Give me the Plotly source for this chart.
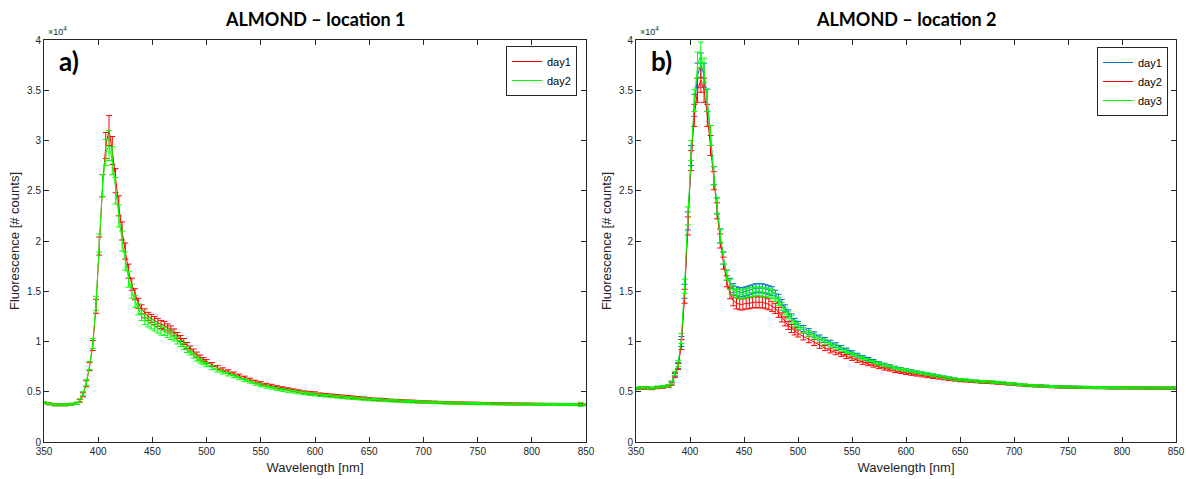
import plotly.graph_objects as go

# ---------------- data (counts) ----------------
WAVELENGTH = [350, 355, 360, 365, 370, 375, 380,
              383, 386, 389, 392, 395, 398, 401, 404, 407, 410,
              413, 416, 419, 422, 425, 428, 431, 434, 437, 440,
              443, 446, 449, 452, 455, 458, 461, 464, 467, 470,
              473, 476, 479, 482, 485, 488, 491, 494, 497, 500,
              505, 510, 515, 520, 525, 530, 535, 540, 545, 550,
              555, 560, 565, 570, 575, 580, 585, 590, 595, 600,
              605, 610, 615, 620, 625, 630, 635, 640, 645, 650,
              655, 660, 665, 670, 675, 680, 685, 690, 695, 700,
              705, 710, 715, 720, 725, 730, 735, 740, 745, 750,
              755, 760, 765, 770, 775, 780, 785, 790, 795, 800,
              805, 810, 815, 820, 825, 830, 835, 840, 845, 850]

# Location 1
LOC1_DAY1 = [3900, 3800, 3700, 3700, 3700, 3750, 3850,
             4100, 4700, 5800, 7500, 9600, 13500, 19500, 25500, 29500, 31000,
             29000, 26000, 23500, 21000, 19000, 17000, 15700, 14700, 13800, 13200,
             12800, 12500, 12300, 12100, 11900, 11700, 11600, 11400, 11200, 10900,
             10600, 10300, 10000, 9600, 9300, 9000, 8700, 8400, 8200, 8000,
             7700, 7400, 7200, 7000, 6800, 6600, 6400, 6200, 6000, 5850,
             5700, 5600, 5450, 5350, 5250, 5150, 5050, 4950, 4900, 4850,
             4750, 4700, 4650, 4600, 4550, 4500, 4450, 4400, 4350, 4300,
             4250, 4230, 4200, 4150, 4120, 4100, 4070, 4050, 4020, 4000,
             3980, 3960, 3940, 3920, 3900, 3890, 3880, 3870, 3860, 3850,
             3840, 3830, 3820, 3810, 3800, 3800, 3790, 3780, 3780, 3770,
             3760, 3760, 3750, 3750, 3740, 3740, 3730, 3730, 3730, 3720]
LOC1_DAY1_ERR = [100, 100, 100, 100, 100, 100, 100,
                 150, 200, 300, 400, 500, 700, 900, 1100, 1300, 1500,
                 1400, 1200, 1000, 900, 800, 700, 600, 550, 500, 450,
                 450, 400, 400, 400, 400, 400, 400, 350, 350, 350,
                 300, 300, 300, 300, 250, 250, 250, 250, 200, 200,
                 200, 200, 180, 180, 160, 160, 150, 150, 150, 150,
                 140, 140, 140, 140, 140, 140, 140, 140, 140, 140,
                 130, 130, 130, 130, 130, 130, 130, 130, 130, 130,
                 120, 120, 120, 120, 120, 120, 120, 120, 120, 120,
                 110, 110, 110, 110, 110, 110, 110, 110, 110, 110,
                 100, 100, 100, 100, 100, 100, 100, 100, 100, 100,
                 100, 100, 100, 100, 100, 100, 100, 100, 100, 100]
LOC1_DAY2 = [3900, 3800, 3700, 3700, 3700, 3750, 3850,
             4150, 4800, 5900, 7600, 9800, 13800, 19800, 25500, 28800, 29500,
             28000, 25000, 22500, 20000, 18000, 16200, 15000, 14000, 13200, 12600,
             12200, 11900, 11700, 11500, 11300, 11100, 11000, 10800, 10600, 10400,
             10100, 9800, 9500, 9200, 8900, 8600, 8300, 8100, 7900, 7700,
             7400, 7150, 6950, 6750, 6550, 6350, 6150, 6000, 5800, 5650,
             5500, 5400, 5280, 5180, 5080, 5000, 4920, 4850, 4780, 4720,
             4650, 4600, 4550, 4500, 4450, 4400, 4360, 4320, 4280, 4240,
             4200, 4170, 4140, 4110, 4080, 4060, 4030, 4010, 3990, 3970,
             3950, 3930, 3910, 3890, 3880, 3860, 3850, 3840, 3830, 3820,
             3810, 3800, 3790, 3790, 3780, 3770, 3770, 3760, 3760, 3750,
             3740, 3740, 3730, 3730, 3720, 3720, 3720, 3720, 3750, 3720]
LOC1_DAY2_ERR = [100, 100, 100, 100, 100, 100, 100,
                 150, 200, 300, 400, 500, 700, 900, 1100, 1300, 1500,
                 1400, 1300, 1100, 1000, 900, 800, 700, 600, 550, 500,
                 500, 450, 450, 450, 450, 450, 400, 400, 400, 350,
                 350, 300, 300, 300, 250, 250, 250, 250, 200, 200,
                 200, 200, 180, 180, 160, 160, 150, 150, 150, 150,
                 140, 140, 140, 140, 140, 140, 140, 140, 140, 140,
                 130, 130, 130, 130, 130, 130, 130, 130, 130, 130,
                 120, 120, 120, 120, 120, 120, 120, 120, 120, 120,
                 110, 110, 110, 110, 110, 110, 110, 110, 110, 110,
                 100, 100, 100, 100, 100, 100, 100, 100, 100, 100,
                 100, 100, 100, 100, 100, 100, 100, 100, 200, 100]

# Location 2
LOC2_DAY1 = [5350, 5400, 5400, 5350, 5450, 5500, 5600,
             5900, 6700, 7600, 10000, 15000, 22000, 28500, 33500, 36500, 37500,
             36500, 34000, 30500, 26500, 23500, 20500, 18300, 16600, 15800, 15300,
             15000, 14900, 14900, 15000, 15100, 15200, 15300, 15300, 15300, 15200,
             15100, 15000, 14700, 14300, 13800, 13300, 12800, 12400, 12000, 11700,
             11300, 11000, 10700, 10400, 10150, 9900, 9650, 9400, 9150, 8900,
             8650, 8450, 8250, 8050, 7850, 7700, 7550, 7400, 7280, 7150,
             7050, 6950, 6850, 6750, 6650, 6550, 6450, 6350, 6250, 6200,
             6150, 6100, 6050, 6000, 5980, 5950, 5900, 5850, 5800, 5750,
             5700, 5650, 5620, 5600, 5580, 5550, 5520, 5500, 5480, 5470,
             5460, 5450, 5440, 5430, 5420, 5420, 5410, 5400, 5400, 5400,
             5400, 5390, 5390, 5380, 5380, 5380, 5370, 5370, 5370, 5370]
LOC2_DAY1_ERR = [100, 100, 100, 100, 100, 100, 100,
                 150, 200, 300, 500, 700, 900, 1000, 1100, 1200, 1200,
                 1200, 1100, 1000, 900, 800, 700, 600, 500, 500, 450,
                 450, 450, 450, 450, 450, 450, 450, 450, 450, 450,
                 450, 450, 400, 400, 400, 350, 350, 350, 300, 300,
                 300, 280, 260, 250, 240, 230, 220, 200, 200, 180,
                 180, 170, 160, 150, 150, 150, 140, 140, 130, 130,
                 120, 120, 120, 120, 120, 120, 120, 120, 120, 120,
                 110, 110, 110, 110, 110, 110, 110, 110, 110, 110,
                 100, 100, 100, 100, 100, 100, 100, 100, 100, 100,
                 100, 100, 100, 100, 100, 100, 100, 100, 100, 100,
                 100, 100, 100, 100, 100, 100, 100, 100, 100, 100]
LOC2_DAY2 = [5300, 5350, 5350, 5300, 5400, 5450, 5550,
             5800, 6600, 7500, 9700, 14500, 21500, 28000, 32500, 35000, 36000,
             35000, 32500, 29500, 26000, 23000, 20000, 17800, 16000, 14800, 14100,
             13800, 13700, 13700, 13800, 13800, 13900, 13900, 13900, 13900, 13800,
             13700, 13500, 13300, 12900, 12400, 12000, 11600, 11300, 11000, 10800,
             10500, 10200, 9900, 9600, 9350, 9100, 8900, 8700, 8500, 8300,
             8100, 7900, 7750, 7600, 7450, 7300, 7200, 7050, 6950, 6850,
             6750, 6680, 6600, 6520, 6450, 6380, 6300, 6250, 6180, 6120,
             6080, 6040, 6000, 5960, 5930, 5900, 5860, 5820, 5780, 5740,
             5690, 5640, 5600, 5580, 5560, 5530, 5500, 5480, 5460, 5450,
             5440, 5430, 5420, 5410, 5400, 5400, 5390, 5380, 5380, 5380,
             5380, 5370, 5370, 5360, 5360, 5360, 5350, 5350, 5350, 5350]
LOC2_DAY2_ERR = [100, 100, 100, 100, 100, 100, 100,
                 150, 200, 300, 500, 700, 900, 1000, 1100, 1200, 1200,
                 1200, 1100, 1000, 900, 800, 700, 600, 550, 550, 550,
                 550, 550, 550, 550, 550, 550, 550, 550, 550, 550,
                 550, 500, 500, 500, 450, 450, 400, 400, 350, 350,
                 350, 320, 300, 280, 260, 240, 220, 200, 200, 180,
                 180, 170, 160, 150, 150, 150, 140, 140, 130, 130,
                 120, 120, 120, 120, 120, 120, 120, 120, 120, 120,
                 110, 110, 110, 110, 110, 110, 110, 110, 110, 110,
                 100, 100, 100, 100, 100, 100, 100, 100, 100, 100,
                 100, 100, 100, 100, 100, 100, 100, 100, 100, 100,
                 100, 100, 100, 100, 100, 100, 100, 100, 100, 100]
LOC2_DAY3 = [5350, 5400, 5400, 5350, 5450, 5500, 5600,
             5900, 6800, 7800, 10300, 15500, 22500, 29000, 34000, 37500, 38500,
             37000, 34000, 30500, 26500, 23500, 20500, 18300, 16600, 15700, 15100,
             14800, 14700, 14700, 14800, 14900, 14900, 15000, 15000, 14900, 14900,
             14800, 14700, 14400, 14000, 13500, 13000, 12600, 12200, 11800, 11500,
             11100, 10800, 10500, 10200, 9950, 9700, 9450, 9200, 9000, 8750,
             8550, 8350, 8150, 7950, 7800, 7650, 7500, 7350, 7250, 7150,
             7050, 6950, 6850, 6750, 6650, 6550, 6450, 6350, 6250, 6200,
             6150, 6100, 6050, 6020, 6000, 5960, 5920, 5870, 5820, 5770,
             5720, 5670, 5630, 5610, 5580, 5550, 5520, 5500, 5480, 5470,
             5460, 5450, 5440, 5430, 5420, 5420, 5410, 5400, 5400, 5400,
             5400, 5390, 5390, 5380, 5380, 5380, 5370, 5370, 5370, 5370]
LOC2_DAY3_ERR = [100, 100, 100, 100, 100, 100, 100,
                 150, 200, 300, 500, 700, 900, 1000, 1100, 1300, 1300,
                 1200, 1100, 1000, 900, 800, 700, 600, 500, 500, 450,
                 450, 450, 450, 450, 450, 450, 450, 450, 450, 450,
                 450, 450, 400, 400, 400, 350, 350, 350, 300, 300,
                 300, 280, 260, 250, 240, 230, 220, 200, 200, 180,
                 180, 170, 160, 150, 150, 150, 140, 140, 130, 130,
                 120, 120, 120, 120, 120, 120, 120, 120, 120, 120,
                 110, 110, 110, 110, 110, 110, 110, 110, 110, 110,
                 100, 100, 100, 100, 100, 100, 100, 100, 100, 100,
                 100, 100, 100, 100, 100, 100, 100, 100, 100, 100,
                 100, 100, 100, 100, 100, 100, 100, 100, 100, 100]

X_TICKS = [350, 400, 450, 500, 550, 600, 650, 700, 750, 800, 850]
Y_TICKS = [0, 5000, 10000, 15000, 20000, 25000, 30000, 35000, 40000]
Y_TICK_TEXT = ["0", "0.5", "1", "1.5", "2", "2.5", "3", "3.5", "4"]

TITLES = ["ALMOND \u2013 location 1", "ALMOND \u2013 location 2"]
PANEL_LABELS = ["a)", "b)"]

RED = "#ff0000"
GREEN = "#00ff00"
BLUE = "#0072bd"

W, H = 1186, 479
# plot areas in px
L1, R1 = 44, 586
L2, R2 = 636, 1176
TOP, BOT = 40, 442

fig = go.Figure()


def add(x, y, err, color, name, xa, ya, legend):
    fig.add_trace(go.Scatter(
        x=x, y=y, mode="lines", name=name,
        line=dict(color=color, width=1),
        error_y=dict(type="data", array=err, color=color, thickness=1, width=3),
        xaxis=xa, yaxis=ya, legend=legend,
    ))


add(WAVELENGTH, LOC1_DAY1, LOC1_DAY1_ERR, RED, "day1", "x", "y", "legend")
add(WAVELENGTH, LOC1_DAY2, LOC1_DAY2_ERR, GREEN, "day2", "x", "y", "legend")
add(WAVELENGTH, LOC2_DAY1, LOC2_DAY1_ERR, BLUE, "day1", "x2", "y2", "legend2")
add(WAVELENGTH, LOC2_DAY2, LOC2_DAY2_ERR, RED, "day2", "x2", "y2", "legend2")
add(WAVELENGTH, LOC2_DAY3, LOC2_DAY3_ERR, GREEN, "day3", "x2", "y2", "legend2")

AX_COLOR = "#262626"
tickfont = dict(family="Liberation Sans, Arial", size=10, color=AX_COLOR)
titlefont = dict(family="Liberation Sans, Arial", size=13, color=AX_COLOR)

ydom = [1 - BOT / H, 1 - TOP / H]
common_x = dict(range=[350, 850], tickvals=X_TICKS, ticks="inside", ticklen=5,
                tickcolor=AX_COLOR, showline=True, linecolor=AX_COLOR, linewidth=1,
                mirror="ticks", showgrid=False, zeroline=False, tickfont=tickfont,
                automargin=False,
                title=dict(text="Wavelength [nm]", font=titlefont, standoff=6))
common_y = dict(range=[0, 40000], tickvals=Y_TICKS, ticktext=Y_TICK_TEXT,
                ticks="inside", ticklen=5, tickcolor=AX_COLOR, showline=True,
                linecolor=AX_COLOR, linewidth=1, mirror="ticks", showgrid=False,
                zeroline=False, tickfont=tickfont, domain=ydom, automargin=False,
                title=dict(text="Fluorescence [# counts]", font=titlefont, standoff=4))

legend_font = dict(family="Liberation Sans, Arial", size=11, color="#000")
fig.update_layout(
    width=W, height=H,
    margin=dict(l=0, r=0, t=0, b=0),
    paper_bgcolor="white", plot_bgcolor="white",
    xaxis=dict(domain=[L1 / W, R1 / W], anchor="y", **common_x),
    yaxis=dict(anchor="x", **common_y),
    xaxis2=dict(domain=[L2 / W, R2 / W], anchor="y2", **common_x),
    yaxis2=dict(anchor="x2", **common_y),
    legend=dict(x=577 / W, y=1 - 46 / H, xanchor="right", yanchor="top",
                bgcolor="white", bordercolor=AX_COLOR, borderwidth=1,
                font=legend_font, itemwidth=30, tracegroupgap=0),
    legend2=dict(x=1168 / W, y=1 - 47 / H, xanchor="right", yanchor="top",
                 bgcolor="white", bordercolor=AX_COLOR, borderwidth=1,
                 font=legend_font, itemwidth=30, tracegroupgap=0),
    showlegend=True,
)

annotations = []
for i, (l, r) in enumerate([(L1, R1), (L2, R2)]):
    annotations.append(dict(text="<b>" + TITLES[i] + "</b>", x=(l + r) / 2 / W, y=1 - 19 / H,
                            xref="paper", yref="paper", xanchor="center", yanchor="middle",
                            showarrow=False,
                            font=dict(family="Lato, Open Sans", size=18, color="#000")))
    annotations.append(dict(text="<b>" + PANEL_LABELS[i] + "</b>", x=(l + 13) / W, y=1 - 61 / H,
                            xref="paper", yref="paper", xanchor="left", yanchor="middle",
                            showarrow=False,
                            font=dict(family="Lato, Open Sans", size=26, color="#000")))
    annotations.append(dict(text="\u00d710<sup>4</sup>", x=(l + 2) / W, y=1 - 39 / H,
                            xref="paper", yref="paper", xanchor="left", yanchor="bottom",
                            showarrow=False,
                            font=dict(family="Liberation Sans, Arial", size=9, color=AX_COLOR)))
fig.update_layout(annotations=annotations)

fig.write_html("out.html", config={"displayModeBar": False},
               post_script="document.body.style.margin='0';document.body.style.overflow='hidden';")
